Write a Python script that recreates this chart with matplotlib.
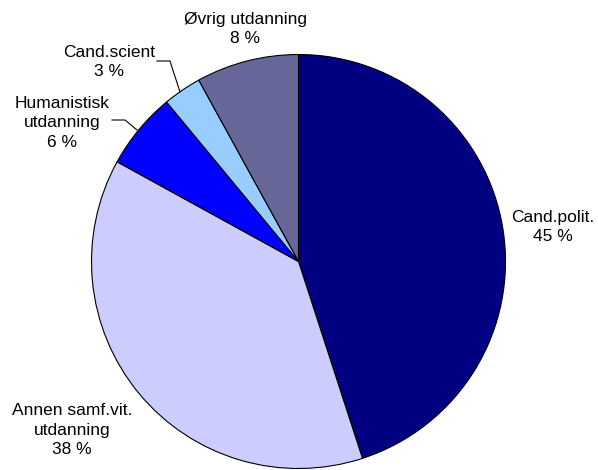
import matplotlib.pyplot as plt

plt.rcParams['font.family'] = ['Liberation Sans', 'DejaVu Sans']

# Data
labels = ['Cand.polit.', 'Annen samf.vit.\nutdanning', 'Humanistisk\nutdanning',
          'Cand.scient', 'Øvrig utdanning']
shares = [45, 38, 6, 3, 8]
colors = ['#000080', '#CCCCFF', '#0000FF', '#99CCFF', '#666699']

# label anchor positions (pixels from top-left) and leader line points
label_pos = [(553, 227), (72, 430), (62, 123), (109, 62), (245, 29)]
leaders = {2: [(112, 120), (125, 120), (137, 130)],
           3: [(157, 61), (170, 61), (180, 92)]}

W, H = 598, 470
fig = plt.figure(figsize=(W / 100, H / 100), dpi=100)
ax = fig.add_axes([0, 0, 1, 1])

# pie centre / radius in pixel units
cx, cy, r = 298.5, H - 261.5, 207
ax.pie(shares, colors=colors, startangle=90, counterclock=False,
       center=(cx, cy), radius=r, frame=True,
       wedgeprops=dict(edgecolor='black', linewidth=0.8))
ax.set_xlim(0, W)
ax.set_ylim(0, H)
ax.set_aspect('equal')
ax.axis('off')

for i, (lab, val) in enumerate(zip(labels, shares)):
    x, y = label_pos[i]
    ax.text(x, H - y, f'{lab}\n{val} %', ha='center', va='center',
            fontsize=12.5, linespacing=1.35, color='black')

# leader lines for the small slices
for i, pts in leaders.items():
    xs = [p[0] for p in pts]
    ys = [H - p[1] for p in pts]
    ax.plot(xs, ys, color='black', linewidth=0.8)

fig.savefig('out.png', dpi=100, facecolor='white')
